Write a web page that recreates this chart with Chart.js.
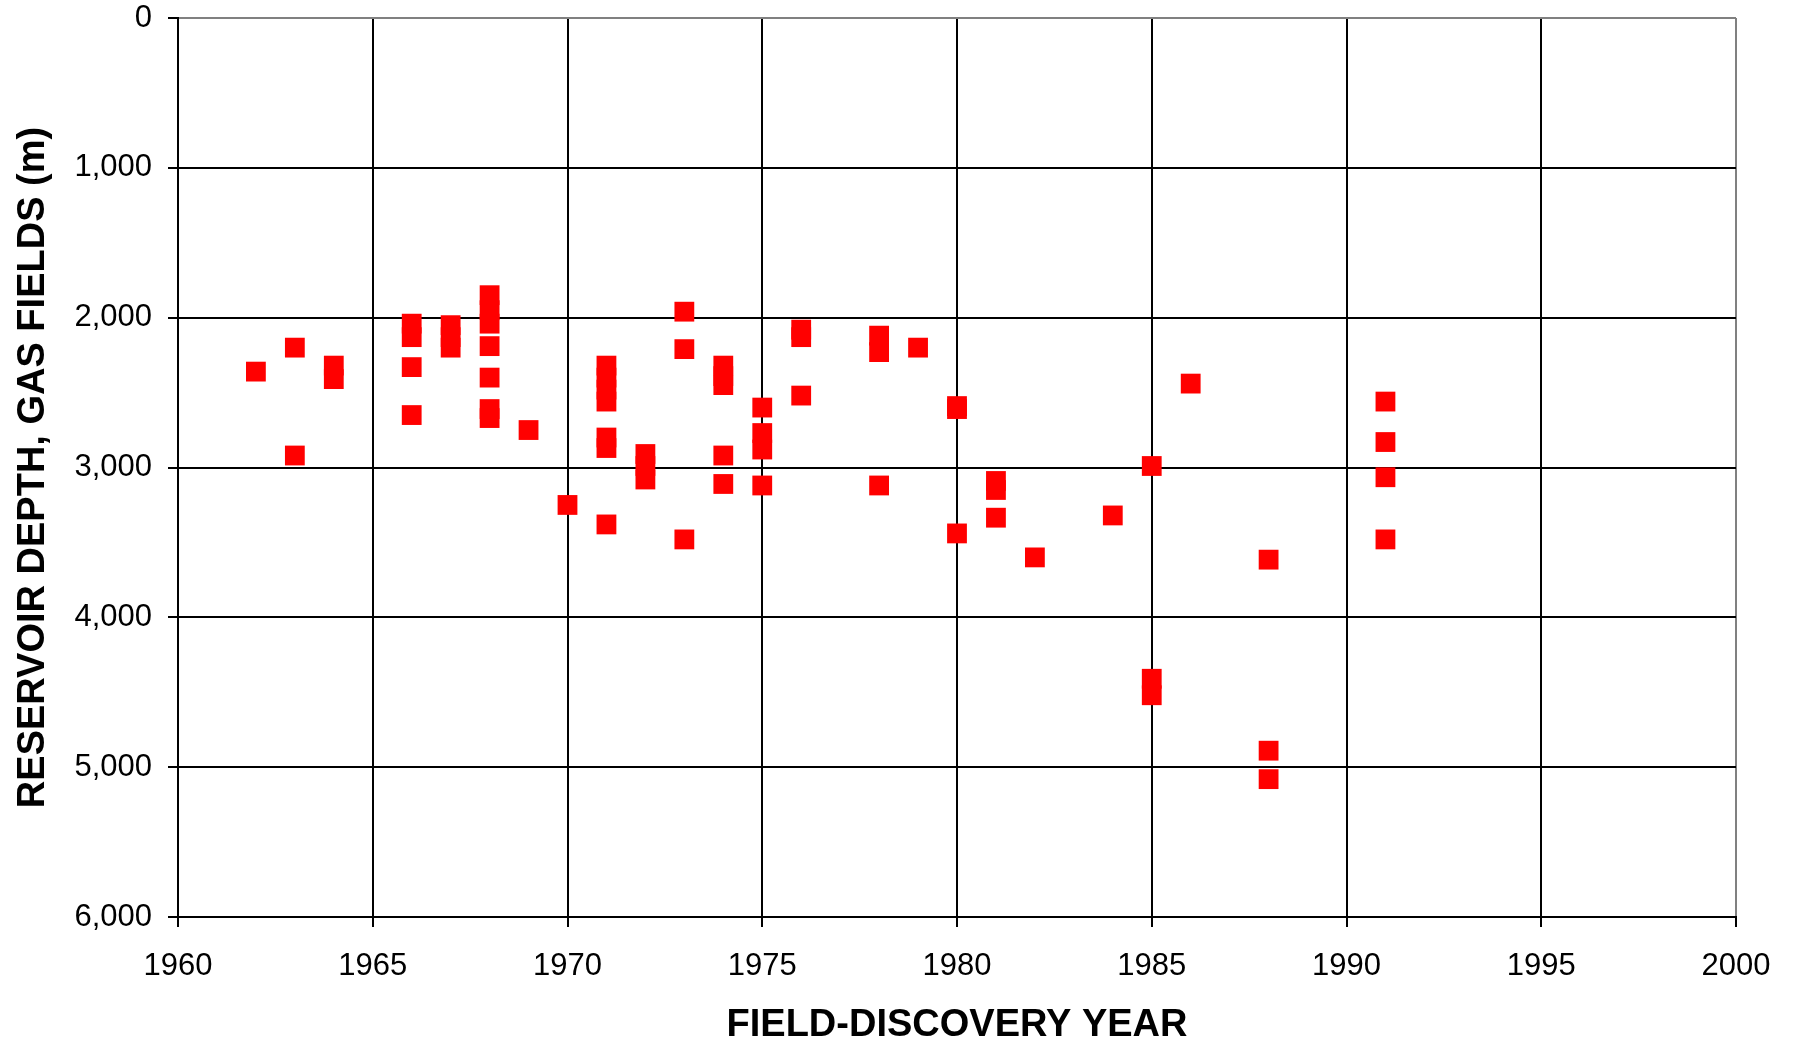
<!DOCTYPE html>
<html>
<head>
<meta charset="utf-8">
<title>Reservoir depth vs field-discovery year</title>
<script src="https://cdn.jsdelivr.net/npm/chart.js@4.4.0/dist/chart.umd.min.js"></script>
<style>
  body { margin: 0; background: #fff; }
  #wrap { width: 1793px; height: 1042px; }
</style>
</head>
<body>
<div id="wrap"><canvas id="depthChart" width="1793" height="1042"></canvas></div>
<script>
var FONT = "Arial, 'Liberation Sans', sans-serif";

// discovery year of each gas field and its reservoir depth (m)
var years = [
  1962,
  1963, 1963,
  1964, 1964,
  1966, 1966, 1966, 1966,
  1967, 1967, 1967,
  1968, 1968, 1968, 1968, 1968, 1968, 1968,
  1969,
  1970,
  1971, 1971, 1971, 1971, 1971, 1971, 1971,
  1972, 1972, 1972,
  1973, 1973, 1973,
  1974, 1974, 1974, 1974, 1974,
  1975, 1975, 1975, 1975,
  1976, 1976, 1976,
  1978, 1978, 1978,
  1979,
  1980, 1980, 1980,
  1981, 1981, 1981,
  1982,
  1984,
  1985, 1985, 1985,
  1986,
  1988, 1988, 1988,
  1991, 1991, 1991, 1991
];
var depths = [
  2360,
  2200, 2920,
  2320, 2410,
  2040, 2130, 2330, 2650,
  2050, 2130, 2200,
  1850, 1950, 2040, 2190, 2400, 2610, 2670,
  2750,
  3250,
  2320, 2400, 2480, 2560, 2800, 2870, 3380,
  2910, 2990, 3080,
  1960, 2210, 3480,
  2320, 2390, 2450, 2920, 3110,
  2600, 2770, 2880, 3120,
  2080, 2130, 2520,
  2120, 2230, 3120,
  2200,
  2590, 2610, 3440,
  3090, 3150, 3335,
  3600,
  3320,
  2990, 4410, 4520,
  2440,
  3615, 4890, 5080,
  2560, 2830, 3065, 3480
];

var yearTicks = [1960, 1965, 1970, 1975, 1980, 1985, 1990, 1995, 2000];
var depthTicks = [0, 1000, 2000, 3000, 4000, 5000, 6000];

function toPoints(xs, ys) {
  var pts = [];
  for (var i = 0; i < xs.length; i++) {
    pts.push({x: xs[i], y: ys[i]});
  }
  return pts;
}

function fmtDepth(v) {
  return Number(v).toLocaleString('en-US');
}

var ctx = document.getElementById('depthChart').getContext('2d');
new Chart(ctx, {
  type: 'scatter',
  data: {
    datasets: [{
      data: toPoints(years, depths),
      pointStyle: 'rect',
      pointRadius: 14,
      pointHoverRadius: 14,
      pointBorderWidth: 0,
      backgroundColor: '#ff0000',
      borderColor: '#ff0000'
    }]
  },
  options: {
    responsive: false,
    animation: false,
    events: [],
    layout: { padding: { top: 18, right: 57, left: 0, bottom: 0 } },
    plugins: {
      legend: { display: false },
      tooltip: { enabled: false }
    },
    scales: {
      x: {
        type: 'linear',
        min: 1960,
        max: 2000,
        afterBuildTicks: function(axis) {
          axis.ticks = yearTicks.map(function(v) { return {value: v}; });
        },
        afterFit: function(scale) {
          scale.height = 125;
          scale.paddingLeft = 0;
          scale.paddingRight = 0;
        },
        ticks: {
          color: '#000',
          font: { family: FONT, size: 31 },
          padding: 21,
          maxRotation: 0,
          callback: function(v) { return String(v); }
        },
        grid: {
          color: function(c) { return c.tick && c.tick.value === 2000 ? '#808080' : '#000'; },
          lineWidth: 2,
          tickLength: 10,
          tickColor: '#000',
          tickWidth: 2
        },
        border: { color: '#000', width: 2 },
        title: {
          display: true,
          text: 'FIELD-DISCOVERY YEAR',
          color: '#000',
          font: { family: FONT, size: 38, weight: 'bold', lineHeight: 0.88 },
          padding: { top: 0, bottom: 0 }
        }
      },
      y: {
        type: 'linear',
        reverse: true,
        min: 0,
        max: 6000,
        afterBuildTicks: function(axis) {
          axis.ticks = depthTicks.map(function(v) { return {value: v}; });
        },
        afterFit: function(scale) {
          scale.width = 178;
          scale.paddingTop = 0;
          scale.paddingBottom = 0;
        },
        ticks: {
          color: '#000',
          font: { family: FONT, size: 31 },
          padding: 16,
          callback: function(v) { return fmtDepth(v); }
        },
        grid: {
          color: function(c) { return c.tick && c.tick.value === 0 ? '#808080' : '#000'; },
          lineWidth: 2,
          tickLength: 10,
          tickColor: '#000',
          tickWidth: 2
        },
        border: { color: '#000', width: 2 },
        title: {
          display: true,
          text: 'RESERVOIR DEPTH, GAS FIELDS (m)',
          color: '#000',
          font: { family: FONT, size: 38, weight: 'bold' },
          padding: { top: 11, bottom: 0 }
        }
      }
    }
  }
});
</script>
</body>
</html>
